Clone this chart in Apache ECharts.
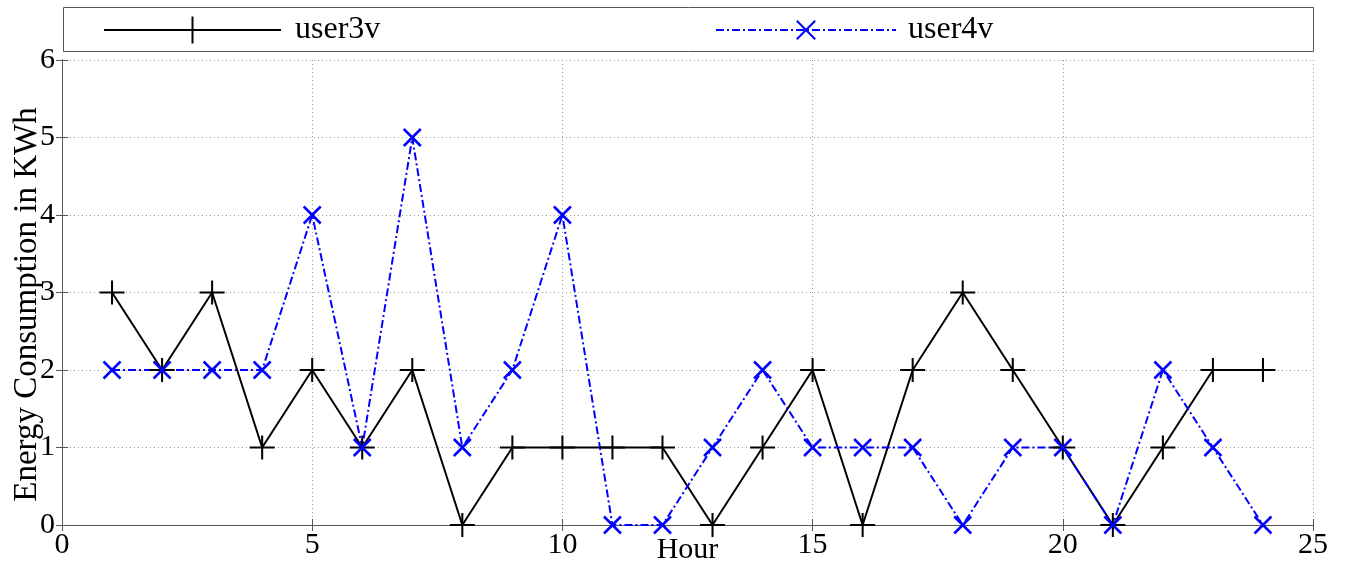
<!DOCTYPE html>
<html>
<head>
<meta charset="utf-8">
<title>Hourly energy consumption</title>
<script src="https://cdn.jsdelivr.net/npm/echarts@6/dist/echarts.min.js"></script>
<style>
  html, body { margin: 0; padding: 0; background: #fff; }
  #chart { width: 1347px; height: 568px; }
</style>
</head>
<body>
<div id="chart"></div>
<script>
// Hour of day on the x axis
const hours = [1, 2, 3, 4, 5, 6, 7, 8, 9, 10, 11, 12, 13, 14, 15, 16, 17, 18, 19, 20, 21, 22, 23, 24];
// Energy consumption (KWh) per hour for each user
const user3v = [3, 2, 3, 1, 2, 1, 2, 0, 1, 1, 1, 1, 0, 1, 2, 0, 2, 3, 2, 1, 0, 1, 2, 2];
const user4v = [2, 2, 2, 2, 4, 1, 5, 1, 2, 4, 0, 0, 1, 2, 1, 1, 1, 0, 1, 1, 0, 2, 1, 0];
// Axis ticks
const xTicks = { min: 0, max: 25, step: 5 };
const yTicks = { min: 0, max: 6, step: 1 };

const FONT = '"Liberation Serif", "Times New Roman", serif';
const PLUS = 'path://M10,0 L10,20 M0,10 L20,10';
const CROSS = 'path://M0,0 L20,20 M20,0 L0,20';

const pairs = vals => hours.map((h, i) => [h, vals[i]]);

const chart = echarts.init(document.getElementById('chart'), null, { renderer: 'canvas' });

const tickLabel = { fontFamily: FONT, fontSize: 30, color: '#000' };
const gridLine = { show: true, lineStyle: { color: '#9a9a9a', type: [1, 3], width: 1 } };
const frameLine = { show: true, lineStyle: { color: '#555', width: 1 } };
const innerTick = { show: true, inside: true, length: 6, lineStyle: { color: '#555', width: 1 } };

chart.setOption({
  backgroundColor: '#fff',
  animation: false,
  grid: { left: 62, right: 34, top: 60, bottom: 43, containLabel: false, outerBoundsMode: 'none' },
  graphic: [{
    type: 'rect',
    left: 63, top: 7,
    shape: { width: 1250, height: 44 },
    style: { fill: '#fff', stroke: '#555', lineWidth: 1 },
    z: 0
  }],
  legend: [{
    data: ['user3v'],
    left: 98, top: 9,
    itemWidth: 177, itemHeight: 34,
    textStyle: { fontFamily: FONT, fontSize: 32, color: '#000', padding: [0, 0, 0, 9] }
  }, {
    data: ['user4v'],
    left: 710, top: 9,
    itemWidth: 180, itemHeight: 23,
    textStyle: { fontFamily: FONT, fontSize: 32, color: '#000', padding: [0, 0, 0, 7] }
  }],
  xAxis: [{
    type: 'value',
    min: xTicks.min, max: xTicks.max, interval: xTicks.step,
    name: 'Hour', nameLocation: 'middle', nameGap: 10, nameMoveOverlap: false,
    nameTextStyle: { fontFamily: FONT, fontSize: 30, color: '#000' },
    axisLine: frameLine, axisTick: innerTick,
    axisLabel: Object.assign({ margin: 5 }, tickLabel),
    splitLine: gridLine
  }, {
    type: 'value', position: 'top',
    min: xTicks.min, max: xTicks.max, interval: xTicks.step,
    axisLine: frameLine, axisTick: innerTick,
    axisLabel: { show: false }, splitLine: { show: false }
  }],
  yAxis: [{
    type: 'value',
    min: yTicks.min, max: yTicks.max, interval: yTicks.step,
    name: 'Energy Consumption in KWh', nameLocation: 'middle', nameGap: 18, nameMoveOverlap: false,
    nameTextStyle: { fontFamily: FONT, fontSize: 33, color: '#000', padding: [0, 24, 0, 0] },
    axisLine: frameLine, axisTick: innerTick,
    axisLabel: Object.assign({ margin: 7 }, tickLabel),
    splitLine: gridLine
  }, {
    type: 'value', position: 'right',
    min: yTicks.min, max: yTicks.max, interval: yTicks.step,
    axisLine: frameLine, axisTick: innerTick,
    axisLabel: { show: false }, splitLine: { show: false }
  }],
  series: [{
    name: 'user3v',
    type: 'line',
    data: pairs(user3v),
    symbol: PLUS, symbolSize: [25, 24],
    showAllSymbol: true,
    lineStyle: { color: '#000', width: 2 },
    itemStyle: { color: '#000', borderColor: '#000', borderWidth: 2 },
    emphasis: { disabled: true }
  }, {
    name: 'user4v',
    type: 'line',
    data: pairs(user4v),
    symbol: CROSS, symbolSize: 17,
    showAllSymbol: true,
    lineStyle: { color: '#0000ff', width: 2, type: [8, 3, 2, 3] },
    itemStyle: { color: '#0000ff', borderColor: '#0000ff', borderWidth: 2.5 },
    emphasis: { disabled: true }
  }]
});
</script>
</body>
</html>
